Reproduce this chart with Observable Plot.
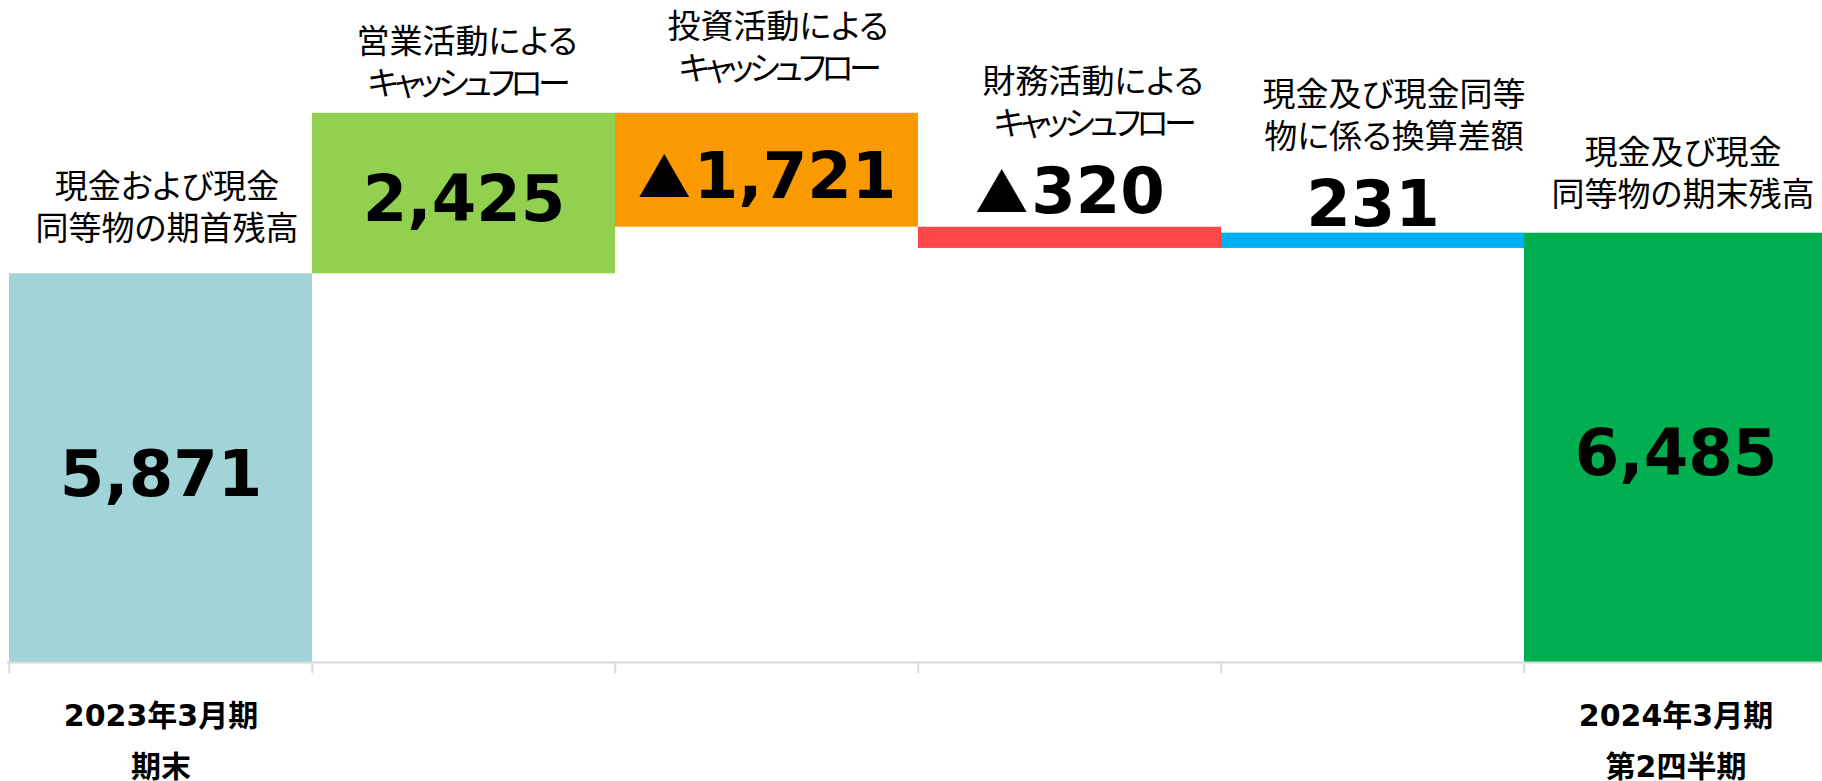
<!DOCTYPE html>
<html>
<head>
<meta charset="utf-8">
<script src="https://cdn.jsdelivr.net/npm/d3@7"></script>
<script src="https://cdn.jsdelivr.net/npm/@observablehq/plot@0.6"></script>
<style>
  html, body { margin: 0; padding: 0; background: #fff; overflow: hidden; }
  svg text { font-feature-settings: "palt"; }
</style>
</head>
<body>
<div id="chart"></div>
<script>
// ---- data ----
const categories = [
  "現金および現金\n同等物の期首残高",
  "営業活動による\nキャッシュフロー",
  "投資活動による\nキャッシュフロー",
  "財務活動による\nキャッシュフロー",
  "現金及び現金同等\n物に係る換算差額",
  "現金及び現金\n同等物の期末残高"
];
const values = [5871, 2425, -1721, -320, 231, 6485];
const kinds = ["total", "delta", "delta", "delta", "delta", "total"];
const periodLabels = ["2023年3月期\n期末", "", "", "", "", "2024年3月期\n第2四半期"];

// ---- style / layout ----
const colors = ["#a0d4d8", "#92d050", "#fa9a00", "#ff474a", "#00b0f0", "#00b050"];
const valuePlacement = ["in", "in", "in", "out", "out", "in"];
const valueDy = [7, 7, 7, -14, -7, 7];
const catDx = [6, 3, 11, 23, 21, 7];
const catDy = [-34, -18, -33, -92, -85, -27];

// ---- build waterfall rows ----
let run = 0;
const rows = categories.map((c, i) => {
  let y1, y2;
  if (kinds[i] === "total") { y1 = 0; y2 = values[i]; }
  else { y1 = run; y2 = run + values[i]; }
  run = y2;
  return {
    cat: c, value: values[i], y1, y2,
    top: Math.max(y1, y2), mid: (y1 + y2) / 2,
    color: colors[i], period: periodLabels[i], i
  };
});

const fmt = d3.format(",");
const valueText = v => v < 0 ? "▲" + fmt(-v) : fmt(v);

const W = 1822, H = 781;
const bw = (1828 - 7) / categories.length;

const marks = [
  Plot.barY(rows, {x: "cat", y1: "y1", y2: "y2", fill: "color"}),
  Plot.ruleY([0], {stroke: "#d9d9d9", strokeWidth: 2}),
  Plot.axisX(categories, {tickSize: 11, tickFormat: () => "", label: null, stroke: "#d9d9d9", strokeWidth: 2, dx: -bw / 2}),
  Plot.text(rows, {
    x: "cat", text: "period", frameAnchor: "bottom", lineAnchor: "bottom",
    dy: 114, lineHeight: 1.7, fontSize: 30, fontWeight: "bold",
    fontFamily: "'DejaVu Sans', 'Noto Sans CJK JP', sans-serif", fill: "#000"
  })
];

rows.forEach((r, i) => {
  marks.push(Plot.text([r], {
    x: "cat", y: valuePlacement[i] === "in" ? "mid" : "top",
    text: d => valueText(d.value),
    lineAnchor: valuePlacement[i] === "in" ? "middle" : "bottom",
    dy: valueDy[i], fontSize: 64, fontWeight: "bold",
    fontFamily: "'DejaVu Sans', 'Noto Sans CJK JP', sans-serif", fill: "#000"
  }));
  marks.push(Plot.text([r], {
    x: "cat", y: "top", text: "cat",
    lineAnchor: "bottom", lineHeight: 1.27,
    dx: catDx[i], dy: catDy[i], fontSize: 33, fontWeight: 400,
    fontFamily: "'Noto Sans CJK JP', sans-serif", fill: "#000"
  }));
});

const chart = Plot.plot({
  width: W, height: H,
  marginTop: 0, marginBottom: 119, marginLeft: 7, marginRight: 0,
  style: {background: "#fff"},
  x: {type: "band", domain: categories, range: [7, 1828], padding: 0, label: null},
  y: {domain: [0, 10000], axis: null},
  marks
});
// tighten katakana-only lines (narrow kana of the original font)
chart.querySelectorAll("tspan").forEach(t => {
  if (/^[ァ-ヶー]+$/.test(t.textContent)) t.setAttribute("letter-spacing", "-4.5");
});
// draw the ▲ sign a little smaller with a gap, as in the original
chart.querySelectorAll("text").forEach(t => {
  if (t.childElementCount === 0 && t.textContent.startsWith("▲")) {
    const rest = t.textContent.slice(1);
    t.textContent = "";
    const ns = "http://www.w3.org/2000/svg";
    const a = document.createElementNS(ns, "tspan");
    a.setAttribute("font-family", "'Noto Sans CJK JP', sans-serif");
    a.setAttribute("font-size", "53");
    a.textContent = "▲";
    const b = document.createElementNS(ns, "tspan");
    b.setAttribute("dx", "3");
    b.textContent = rest;
    t.appendChild(a); t.appendChild(b);
  }
});
document.getElementById("chart").appendChild(chart);
</script>
</body>
</html>
